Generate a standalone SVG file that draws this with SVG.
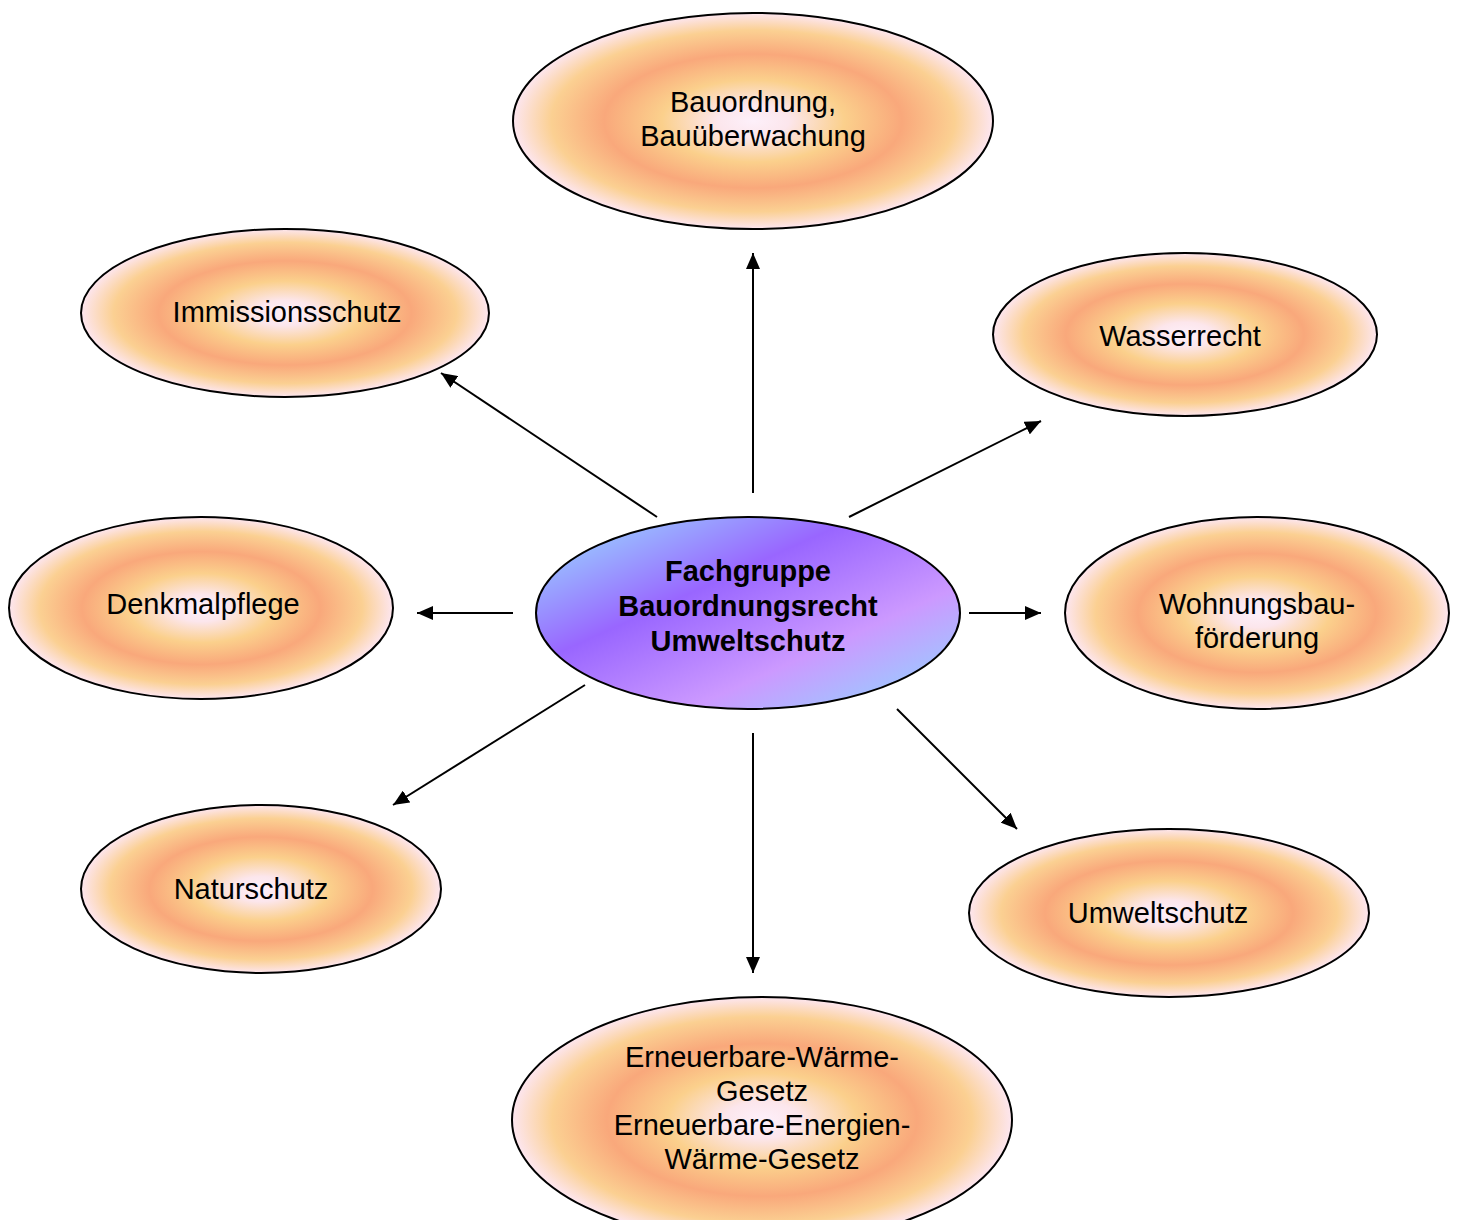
<svg xmlns="http://www.w3.org/2000/svg" width="1459" height="1220" viewBox="0 0 1459 1220">
<defs>
<radialGradient id="warm" cx="0.5" cy="0.5" r="0.5">
<stop offset="0" stop-color="#fdf0fa"/>
<stop offset="0.15" stop-color="#fce6ec"/>
<stop offset="0.38" stop-color="#fbd08c"/>
<stop offset="0.62" stop-color="#f9a87b"/>
<stop offset="0.84" stop-color="#fbd092"/>
<stop offset="1" stop-color="#fde6f0"/>
</radialGradient>
<linearGradient id="cool" x1="0" y1="0" x2="1" y2="1">
<stop offset="0.08" stop-color="#99ccff"/>
<stop offset="0.38" stop-color="#9966ff"/>
<stop offset="0.68" stop-color="#cc99ff"/>
<stop offset="0.92" stop-color="#99ccff"/>
</linearGradient>
<marker id="arr" viewBox="0 0 16 14" refX="16" refY="7" markerWidth="16" markerHeight="14" markerUnits="userSpaceOnUse" orient="auto">
<path d="M0,0 L16,7 L0,14 Z" fill="#000"/>
</marker>
</defs>
<style>
.outer{fill:url(#warm);stroke:#000;stroke-width:2}
.center{fill:url(#cool);stroke:#000;stroke-width:2}
text{font-family:"Liberation Sans",Arial,sans-serif;font-size:29px;fill:#000;text-anchor:middle}
.bold{font-weight:bold}
.conn line{stroke:#000;stroke-width:2;marker-end:url(#arr)}
</style>
<g id="connectors" class="conn">
<line x1="753" y1="493" x2="753" y2="253"/>
<line x1="657" y1="517" x2="441" y2="373"/>
<line x1="849" y1="517" x2="1041" y2="421"/>
<line x1="513" y1="613" x2="417" y2="613"/>
<line x1="969" y1="613" x2="1041" y2="613"/>
<line x1="585" y1="685" x2="393" y2="805"/>
<line x1="753" y1="733" x2="753" y2="973"/>
<line x1="897" y1="709" x2="1017" y2="829"/>
</g>
<g id="center">
<ellipse class="center" cx="748" cy="613" rx="212" ry="96"/>
<text class="bold" x="748" y="581">Fachgruppe</text>
<text class="bold" x="748" y="616">Bauordnungsrecht</text>
<text class="bold" x="748" y="651">Umweltschutz</text>
</g>
<g id="bauordnung">
<ellipse class="outer" cx="753" cy="121" rx="240" ry="108"/>
<text x="753" y="112">Bauordnung,</text>
<text x="753" y="146">Bauüberwachung</text>
</g>
<g id="immissionsschutz">
<ellipse class="outer" cx="285" cy="313" rx="204" ry="84"/>
<text x="287" y="322">Immissionsschutz</text>
</g>
<g id="wasserrecht">
<ellipse class="outer" cx="1185" cy="334.5" rx="192" ry="81.5"/>
<text x="1180" y="346">Wasserrecht</text>
</g>
<g id="denkmalpflege">
<ellipse class="outer" cx="201" cy="608" rx="192" ry="91"/>
<text x="203" y="614">Denkmalpflege</text>
</g>
<g id="wohnungsbau">
<ellipse class="outer" cx="1257" cy="613" rx="192" ry="96"/>
<text x="1257" y="614">Wohnungsbau-</text>
<text x="1257" y="648">förderung</text>
</g>
<g id="naturschutz">
<ellipse class="outer" cx="261" cy="889" rx="180" ry="84"/>
<text x="251" y="899">Naturschutz</text>
</g>
<g id="umweltschutz">
<ellipse class="outer" cx="1169" cy="913" rx="200" ry="84"/>
<text x="1158" y="923">Umweltschutz</text>
</g>
<g id="waermegesetz">
<ellipse class="outer" cx="762" cy="1120" rx="250" ry="123"/>
<text x="762" y="1067">Erneuerbare-Wärme-</text>
<text x="762" y="1101">Gesetz</text>
<text x="762" y="1135">Erneuerbare-Energien-</text>
<text x="762" y="1169">Wärme-Gesetz</text>
</g>
</svg>
